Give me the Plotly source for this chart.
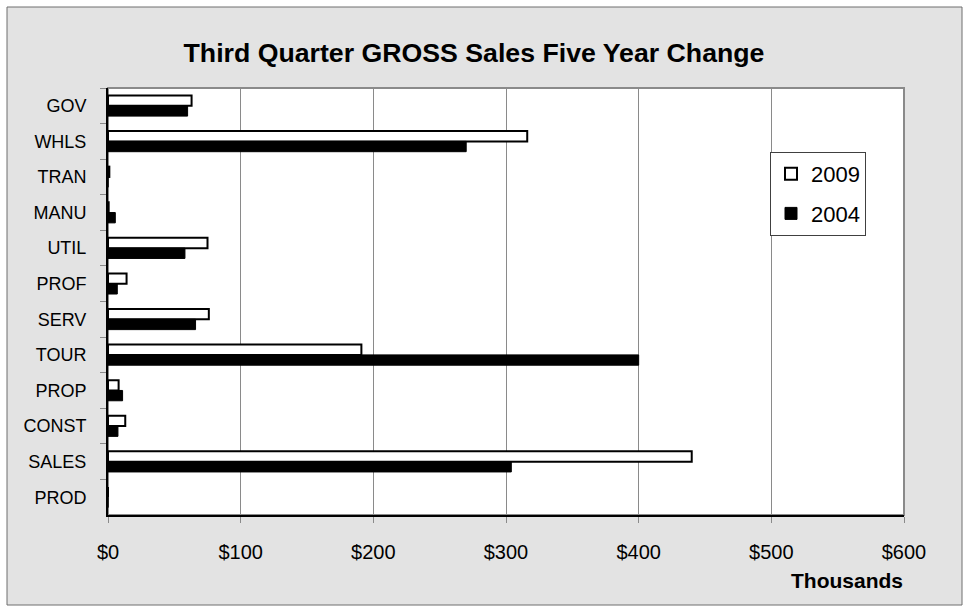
import plotly.graph_objects as go

categories = ["GOV", "WHLS", "TRAN", "MANU", "UTIL", "PROF", "SERV", "TOUR", "PROP", "CONST", "SALES", "PROD"]
sales_2009 = [63, 316, 1, 0.5, 75, 14, 76, 191, 8, 13, 440, 0]
sales_2004 = [60, 270, 0, 5.5, 58, 7, 66, 400, 11, 7.5, 304, 0]
x_ticks = [0, 100, 200, 300, 400, 500, 600]
x_tick_labels = ["$0", "$100", "$200", "$300", "$400", "$500", "$600"]

FONT = "Liberation Sans, Arial, sans-serif"

fig = go.Figure()
fig.add_trace(go.Bar(
    y=categories, x=sales_2009, orientation="h", name="2009",
    legendgroup="2009",
    marker=dict(color="white", line=dict(color="black", width=2)),
))
fig.add_trace(go.Bar(
    y=categories, x=sales_2004, orientation="h", name="2004",
    legendgroup="2004",
    marker=dict(color="black", line=dict(color="black", width=1)),
))

# plot-area geometry in pixels
L, R, T, B = 108, 904, 88, 515
W, H = 970, 612
pw, ph = R - L, B - T

def px_x(p):
    return (p - L) / pw

def px_y(p):
    return (B - p) / ph

fig.update_layout(
    width=W, height=H, autosize=False,
    margin=dict(l=L, r=W - R, t=T, b=H - B, pad=0),
    paper_bgcolor="white",
    plot_bgcolor="white",
    barmode="group", bargap=0.42, bargroupgap=0,
    font=dict(family=FONT, color="black"),
    title=dict(
        text="<b>Third Quarter GROSS Sales Five Year Change</b>",
        font=dict(family=FONT, size=26.7, color="black"),
        xref="container", x=474 / W, xanchor="center",
        yref="container", y=1 - 53 / H, yanchor="middle",
    ),
    legend=dict(
        x=px_x(770), y=px_y(152), xanchor="left", yanchor="top",
        bgcolor="white", bordercolor="#404040", borderwidth=1,
        font=dict(family=FONT, size=22, color="black"),
        tracegroupgap=8, traceorder="grouped",
    ),
    shapes=[
        dict(type="rect", xref="paper", yref="paper", layer="below",
             x0=px_x(7), x1=px_x(962), y0=px_y(605), y1=px_y(7),
             fillcolor="#e3e3e3", line=dict(color="#6e6e6e", width=1)),
        dict(type="rect", xref="paper", yref="paper", layer="below",
             x0=0, x1=1, y0=0, y1=1,
             fillcolor="white", line=dict(color="#8a8a8a", width=2)),
    ],
    annotations=[
        dict(text="<b>Thousands</b>", xref="paper", yref="paper",
             x=px_x(905), y=px_y(580), xanchor="right", yanchor="middle",
             showarrow=False, font=dict(family=FONT, size=21, color="black")),
    ],
)

fig.update_xaxes(
    range=[0, 600], tickvals=x_ticks, ticktext=x_tick_labels,
    showgrid=True, gridcolor="#8a8a8a", gridwidth=1,
    zeroline=False,
    showline=True, linecolor="black", linewidth=2,
    ticks="outside", ticklen=6, tickcolor="#8a8a8a", tickwidth=1,
    tickfont=dict(family=FONT, size=20, color="black"),
    ticklabelstandoff=12,
    fixedrange=True,
)
fig.update_yaxes(
    categoryorder="array", categoryarray=categories,
    autorange="reversed",
    showgrid=False, zeroline=False,
    showline=True, linecolor="black", linewidth=2,
    ticks="outside", ticklen=6, tickcolor="#8a8a8a", tickwidth=1,
    tickson="boundaries",
    tickfont=dict(family=FONT, size=18, color="black"),
    ticklabelstandoff=16,
    fixedrange=True,
)

fig.write_html(
    "out.html",
    config={"displayModeBar": False},
    post_script="document.body.style.margin='0';document.body.style.overflow='hidden';",
)
